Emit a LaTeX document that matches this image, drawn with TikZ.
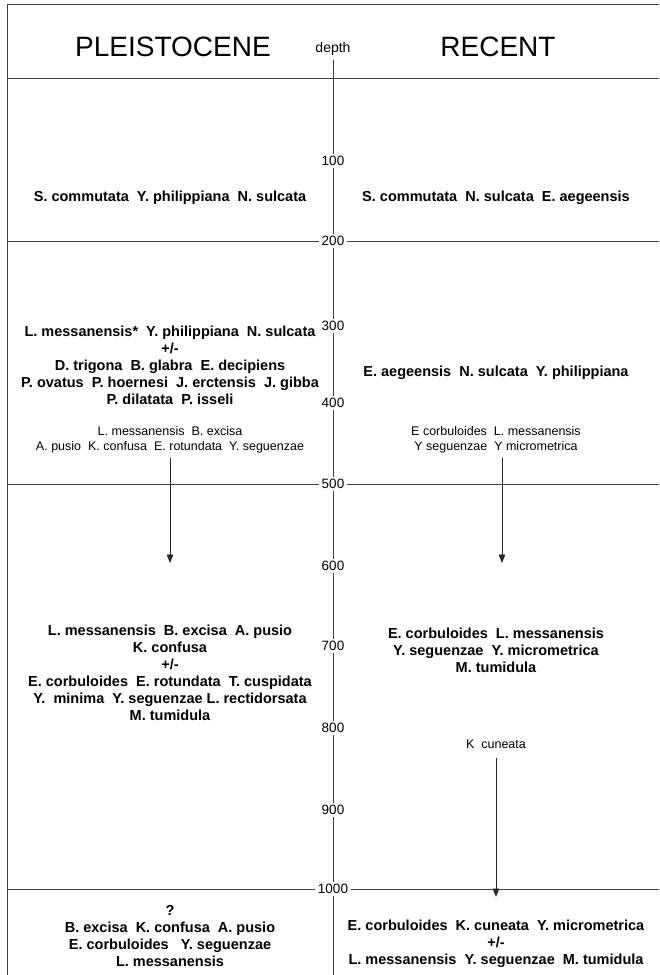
\documentclass[tikz,border=0pt]{standalone}
\usepackage{fontspec}
\setmainfont{Liberation Sans}
\usetikzlibrary{arrows.meta,calc}
\begin{document}
\begin{tikzpicture}[x=1pt,y=-1pt,
  rule/.style={draw=black!75, line width=0.8pt},
  spec/.style={font=\bfseries\fontsize{14.5}{17}\selectfont, align=center, inner sep=0pt},
  smalltxt/.style={font=\fontsize{12.5}{14.5}\selectfont, align=center, inner sep=0pt},
  tick/.style={font=\fontsize{13.5}{15}\selectfont, fill=white, inner sep=2.5pt},
  title/.style={font=\fontsize{28}{30}\selectfont, inner sep=0pt},
  arr/.style={draw=black!85, line width=0.8pt, -{Triangle[width=6.5pt,length=8.5pt]}}]
\useasboundingbox (0,0) rectangle (659,975);
\fill[white] (0,0) rectangle (659,975);
% frame and rules
\draw[rule] (659,4) -- (7,4) -- (7,975);
\draw[rule] (7,78) -- (659,78);
\draw[rule] (7,241) -- (659,241);
\draw[rule] (7,484) -- (659,484);
\draw[rule] (7,889) -- (659,889);
% headers
\node[title] (pleist) at (173,47) {PLEISTOCENE};
\node[title] (recent) at (498,47) {RECENT};
\node[font=\fontsize{14}{15}\selectfont, inner sep=1pt] (depth) at (333,49) {depth};
\coordinate (axtop) at (333,60);
\coordinate (axbot) at (333,975);
\draw[rule] (axtop) -- (axbot);
% depth ticks
\foreach \d/\y in {100/161,200/241,300/326,400/403,500/484,600/566,700/646,800/728,900/810,1000/889}
  \node[tick] (t\d) at (333,\y) {\d};
% top section
\node[spec] (l1) at (170,198) {S. commutata\ \ Y. philippiana\ \ N. sulcata};
\node[spec] (r1) at (496,198) {S. commutata\ \ N. sulcata\ \ E. aegeensis};
% middle section
\node[spec] (l2) at (170,365) {L. messanensis*\ \ Y. philippiana\ \ N. sulcata\\ +/-\\ D. trigona\ \ B. glabra\ \ E. decipiens\\ P. ovatus\ \ P. hoernesi\ \ J. erctensis\ \ J. gibba\\ P. dilatata\ \ P. isseli};
\node[spec] (r2) at (496,373) {E. aegeensis\ \ N. sulcata\ \ Y. philippiana};
\node[smalltxt] (ls) at (170,440) {L. messanensis\ \ B. excisa\\ A. pusio\ \ K. confusa\ \ E. rotundata\ \ Y. seguenzae};
\node[smalltxt] (rs) at (496,440) {E\ corbuloides\ \ L. messanensis\\ Y\ seguenzae\ \ Y\ micrometrica};
\coordinate (la0) at (170,458);
\coordinate (la1) at (170,563);
\coordinate (ra0) at (502,458);
\coordinate (ra1) at (502,563);
\draw[arr] (la0) -- (la1);
\draw[arr] (ra0) -- (ra1);
% lower section
\node[spec] (l3) at (170,672.5) {L. messanensis\ \ B. excisa\ \ A. pusio\\ K. confusa\\ +/-\\ E. corbuloides\ \ E. rotundata\ \ T. cuspidata\\ Y.\ \ minima\ \ Y. seguenzae L. rectidorsata\\ M. tumidula};
\node[spec] (r3) at (496,650) {E. corbuloides\ \ L. messanensis\\ Y. seguenzae\ \ Y. micrometrica\\ M. tumidula};
\node[smalltxt] (kc) at (496,744) {K\ \ cuneata};
\coordinate (ka0) at (496,758);
\coordinate (ka1) at (496,897);
\draw[arr] (ka0) -- (ka1);
% bottom section
\node[spec] (l4) at (170,935.5) {?\\ B. excisa\ \ K. confusa\ \ A. pusio\\ E. corbuloides\ \ \ Y. seguenzae\\ L. messanensis};
\node[spec] (r4) at (496,944) {E. corbuloides\ \ K. cuneata\ \ Y. micrometrica\\ +/-\\ L. messanensis\ \ Y. seguenzae\ \ M. tumidula};
\end{tikzpicture}
\end{document}
